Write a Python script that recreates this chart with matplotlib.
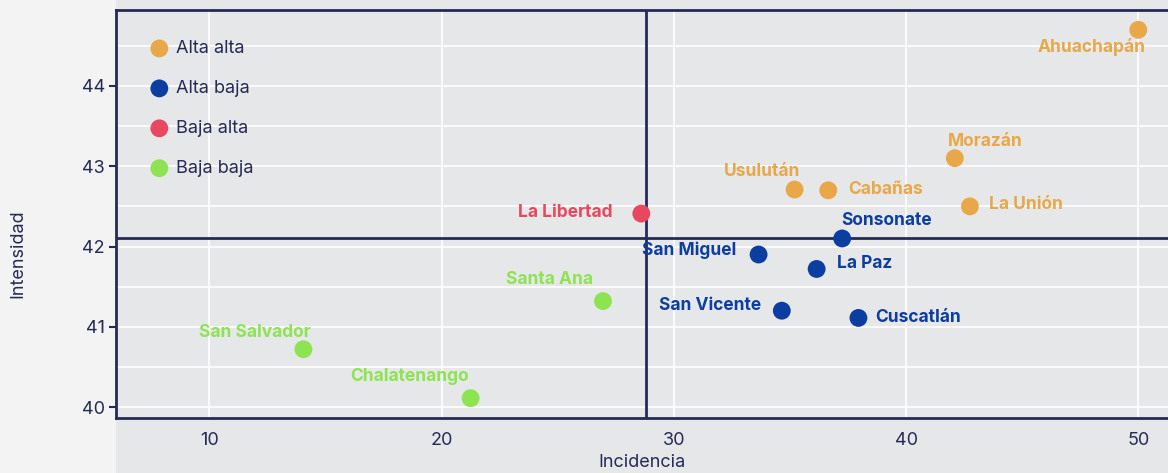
import matplotlib
matplotlib.use("Agg")
import matplotlib.pyplot as plt
from matplotlib.patches import Rectangle

# ---- data ----
departamentos = ["Ahuachapán", "Morazán", "La Unión", "Usulután", "Cabañas",
                 "La Libertad", "Sonsonate", "San Miguel", "La Paz",
                 "San Vicente", "Cuscatlán", "Santa Ana", "San Salvador",
                 "Chalatenango"]
incidencia = [50.0, 42.1, 42.75, 35.2, 36.65, 28.6, 37.25, 33.65, 36.15,
              34.65, 37.95, 26.95, 14.05, 21.25]
intensidad = [44.70, 43.10, 42.50, 42.71, 42.70, 42.41, 42.10, 41.90, 41.72,
              41.20, 41.11, 41.32, 40.72, 40.11]
grupo = ["Alta alta", "Alta alta", "Alta alta", "Alta alta", "Alta alta",
         "Baja alta", "Alta baja", "Alta baja", "Alta baja", "Alta baja",
         "Alta baja", "Baja baja", "Baja baja", "Baja baja"]
grupos = ["Alta alta", "Alta baja", "Baja alta", "Baja baja"]
umbral_incidencia = 28.8
umbral_intensidad = 42.11
x_ticks = [10, 20, 30, 40, 50]
y_ticks = [40, 41, 42, 43, 44]

# ---- styles ----
colores = {"Alta alta": "#e8a84a", "Alta baja": "#0c3da0",
           "Baja alta": "#e8485f", "Baja baja": "#8ee352"}
# label offsets in pixels (dx, dy) and horizontal alignment
etiquetas = {
    "Ahuachapán": (7, -17, "right"),
    "Morazán": (-6.5, 16.5, "left"),
    "La Unión": (19, 1.5, "left"),
    "Usulután": (5.5, 18, "right"),
    "Cabañas": (20, 1, "left"),
    "La Libertad": (-29, 1, "right"),
    "Sonsonate": (-1, 17.5, "left"),
    "San Miguel": (-22, 4, "right"),
    "La Paz": (20.5, 5, "left"),
    "San Vicente": (-21, 5, "right"),
    "Cuscatlán": (17, 0, "left"),
    "Santa Ana": (-10, 22, "right"),
    "San Salvador": (7.5, 17, "right"),
    "Chalatenango": (-2, 22, "right"),
}
dark = "#262a56"
FONT = "Inter"

plt.rcParams["font.family"] = [FONT, "DejaVu Sans"]

fig = plt.figure(figsize=(11.68, 4.73), dpi=100, facecolor="#f2f3f2")
L, R, B, T = 116 / 1168, 1.0, 1 - 418 / 473, 1 - 10 / 473
fig.patches.append(Rectangle((L, 0), 1 - L, 1, transform=fig.transFigure,
                             facecolor="#e6e7e8", edgecolor="none", zorder=-5))
ax = fig.add_axes([L, B, R - L, T - B])
ax.set_facecolor("#e6e7e8")

ax.set_xticks(x_ticks)
ax.set_yticks(y_ticks)
ax.set_yticks([y + 0.5 for y in [39] + y_ticks], minor=True)
ax.set_xlim(5.98, 51.28)
ax.set_ylim(39.863, 44.947)
ax.grid(True, which="major", color="white", linewidth=1.2)
ax.grid(True, which="minor", axis="y", color="white", linewidth=1.2)
ax.set_axisbelow(True)
ax.tick_params(axis="y", which="minor", length=0)
ax.tick_params(axis="y", which="major", length=5, width=1.5, color=dark,
               pad=3, labelsize=13, labelcolor=dark)
ax.tick_params(axis="x", which="major", length=0, pad=10,
               labelsize=13, labelcolor=dark)

for s in ["left", "bottom", "top"]:
    ax.spines[s].set_color(dark)
    ax.spines[s].set_linewidth(2)
ax.spines["right"].set_visible(False)

ax.axvline(umbral_incidencia, color=dark, linewidth=2, zorder=2)
ax.axhline(umbral_intensidad, color=dark, linewidth=2, zorder=2)

for g in grupos:
    xs = [x for x, gg in zip(incidencia, grupo) if gg == g]
    ys = [y for y, gg in zip(intensidad, grupo) if gg == g]
    ax.scatter(xs, ys, s=165, color=colores[g], edgecolors="none",
               label=g, zorder=3)

for name, x, y, g in zip(departamentos, incidencia, intensidad, grupo):
    dx, dy, ha = etiquetas[name]
    ax.annotate(name, (x, y), xytext=(dx, dy), textcoords="offset pixels",
                ha=ha, va="center", fontsize=12.5, fontweight="bold",
                color=colores[g], zorder=4)

leg = ax.legend(loc="upper left", bbox_to_anchor=(0.0326, 0.926),
                frameon=False, fontsize=13, borderpad=0, borderaxespad=0,
                handlelength=1.0, handletextpad=0.45, labelspacing=1.27,
                markerscale=1.0)
for t in leg.get_texts():
    t.set_color(dark)

ax.set_xlabel("Incidencia", fontsize=13, color=dark)
ax.xaxis.set_label_coords(0.5, -0.108)
ax.xaxis.label.set_va("center")
ax.set_ylabel("Intensidad", fontsize=13, color=dark)
ax.yaxis.set_label_coords(-0.093, 0.402)
ax.yaxis.label.set_va("center")

fig.savefig("out.png", dpi=100, facecolor=fig.get_facecolor())
